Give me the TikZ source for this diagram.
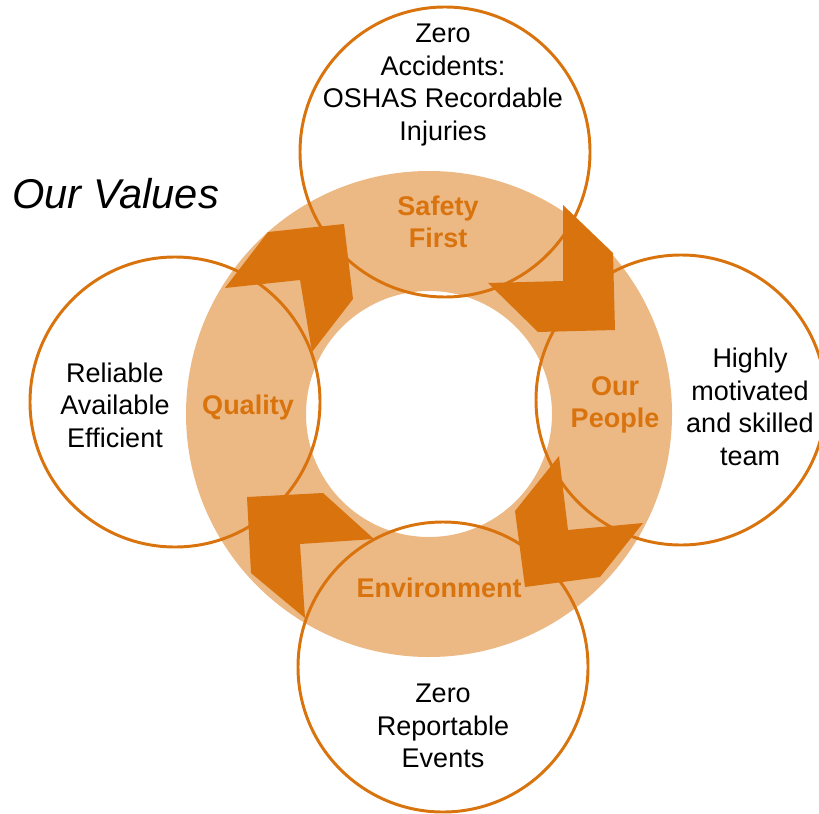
\documentclass[tikz,border=0pt]{standalone}
\usepackage{fontspec}
\setmainfont{Liberation Sans}
\definecolor{valuedark}{RGB}{217,115,13}
\definecolor{valuelight}{RGB}{236,184,131}
\tikzset{
  goalcircle/.style={draw=valuedark, line width=2.1pt},
  chevron/.style={fill=valuedark},
  goal/.style={align=center, font=\fontsize{19.2}{23.1}\selectfont},
  value/.style={align=center, text=valuedark, font=\fontsize{19.2}{23.1}\selectfont\bfseries},
}

\begin{document}
\begin{tikzpicture}[x=0.025cm, y=-0.025cm]
\useasboundingbox (0,0) rectangle (819,813);

% the ring
\fill[valuelight, even odd rule] (429,414) circle (243) (429,414) circle (123);

% goal circles
\draw[goalcircle] (445,152) circle (145);
\draw[goalcircle] (681,400) circle (145);
\draw[goalcircle] (443,667) circle (145);
\draw[goalcircle] (175,402) circle (145);

% chevrons, clockwise
\fill[chevron] (344,224) -- (268,232) -- (225,288) -- (300,280) -- (312,352) -- (353,299) -- cycle;
\fill[chevron] (615,330) -- (613,253) -- (563,205) -- (563,281) -- (488,283) -- (538,332) -- cycle;
\fill[chevron] (525,587) -- (515,511) -- (559,456) -- (568,530) -- (643,523) -- (600,577) -- cycle;
\fill[chevron] (247,497) -- (323,493) -- (374,539) -- (300,544) -- (305,618) -- (251,573) -- cycle;

% values
\node[value] (safety) at (438,222) {Safety\\First};
\node[value] (people) at (615,405) {Our\\People};
\node[value] (env) at (439,588) {Environment};
\node[value] (quality) at (248,408) {Quality};

% goals
\node[goal] (zeroacc) at (443,85) {Zero\\Accidents:\\OSHAS Recordable\\Injuries};
\node[goal] (team) at (750,407) {Highly\\motivated\\and skilled\\team};
\node[goal] (zerorep) at (443,726) {Zero\\Reportable\\Events};
\node[goal] (reliable) at (115,405) {Reliable\\Available\\Efficient};

\node[anchor=west, inner sep=0pt, font=\fontsize{29.6}{34}\selectfont\itshape] (title) at (12,194) {Our Values};
\end{tikzpicture}
\end{document}
